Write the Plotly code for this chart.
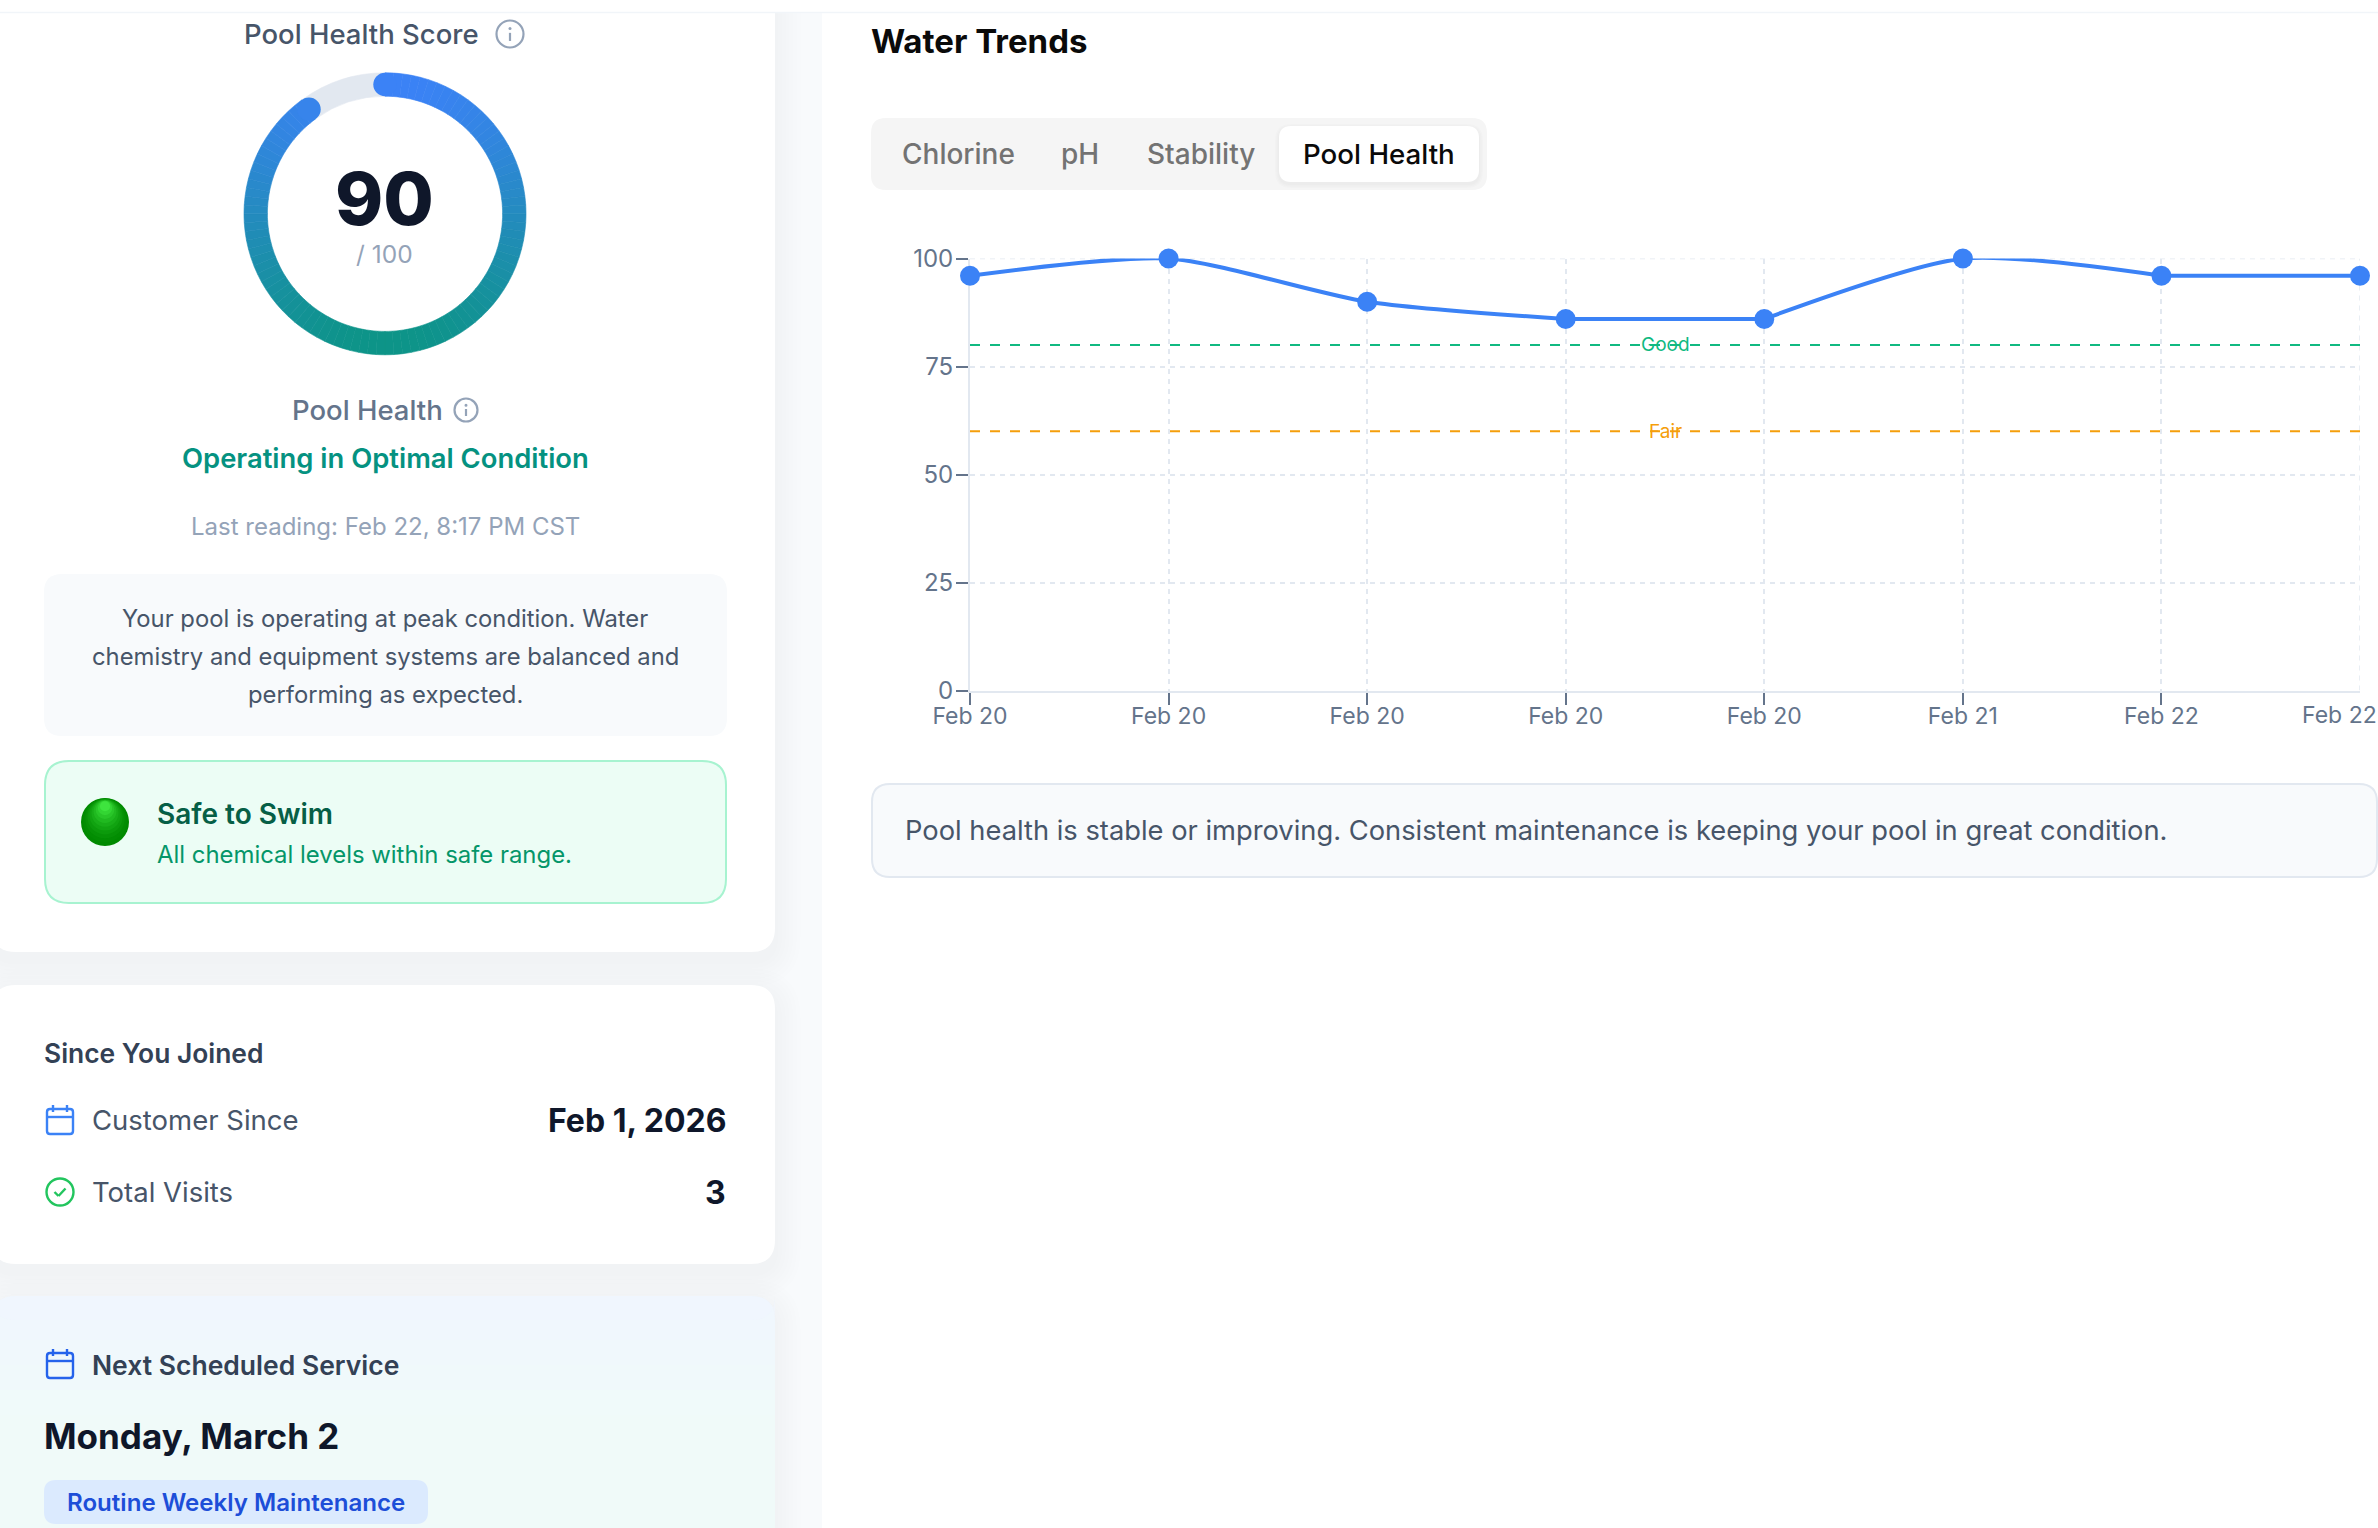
import math

import plotly.graph_objects as go

W = 2378
H = 1528

# chart data
point_index = [0, 1, 2, 3, 4, 5, 6, 7]
health_scores = [96, 100, 90, 86, 86, 100, 96, 96]
date_labels = ["Feb 20", "Feb 20", "Feb 20", "Feb 20", "Feb 20", "Feb 21", "Feb 22", "Feb 22"]
y_ticks = [0, 25, 50, 75, 100]
good_level = 80
fair_level = 60
pool_score = 90
score_max = 100

FONT = "Inter"
SLATE_900 = "#0f172a"
SLATE_700 = "#334155"
SLATE_600 = "#475569"
SLATE_500 = "#64748b"
SLATE_400 = "#94a3b8"
SLATE_200 = "#e2e8f0"
BLUE = "#3b82f6"
TEAL = "#0d9488"

# chart box in page pixels
PLOT_L, PLOT_R, PLOT_T, PLOT_B = 970, 2360, 258.5, 690.5
# gauge in page pixels
GX, GY, R_OUT, R_IN = 385, 213.8, 141, 117.6


def mix(c1, c2, t):
    a = [int(c1[i:i + 2], 16) for i in (1, 3, 5)]
    b = [int(c2[i:i + 2], 16) for i in (1, 3, 5)]
    return "rgb(%d,%d,%d)" % tuple(round(a[k] + (b[k] - a[k]) * t) for k in range(3))


def round_rect(x0, y0, x1, y1, r):
    return (
        f"M{x0 + r},{y0} L{x1 - r},{y0} Q{x1},{y0} {x1},{y0 + r} L{x1},{y1 - r} "
        f"Q{x1},{y1} {x1 - r},{y1} L{x0 + r},{y1} Q{x0},{y1} {x0},{y1 - r} "
        f"L{x0},{y0 + r} Q{x0},{y0} {x0 + r},{y0} Z"
    )


shapes = []
notes = []


def box(x0, y0, x1, y1, r, fill, line=None, width=0, layer="below", opacity=1):
    shapes.append(dict(
        type="path", path=round_rect(x0, y0, x1, y1, r), xref="x", yref="y", fillcolor=fill,
        line=dict(color=line or "rgba(0,0,0,0)", width=width), layer=layer, opacity=opacity,
    ))


def shadow(x0, y0, x1, y1, r, steps=7, spread=26, drop=9, alpha=0.004):
    for i in range(steps):
        s = spread * (1 - i / steps)
        box(x0 - s, y0 - s + drop, x1 + s, y1 + s + drop, r + s, "#0f172a", opacity=alpha)


def circle(cx, cy, r, fill="rgba(0,0,0,0)", line=None, width=0, layer="above"):
    shapes.append(dict(
        type="circle", x0=cx - r, x1=cx + r, y0=cy - r, y1=cy + r, xref="x", yref="y", fillcolor=fill,
        line=dict(color=line or "rgba(0,0,0,0)", width=width), layer=layer,
    ))


def seg(x0, y0, x1, y1, color, width):
    shapes.append(dict(
        type="line", x0=x0, x1=x1, y0=y0, y1=y1, xref="x", yref="y",
        line=dict(color=color, width=width), layer="above",
    ))


def label(x, y, text, size, color, anchor="left", weight=400):
    notes.append(dict(
        x=x, y=y, xref="x", yref="y", text=text, showarrow=False, xanchor=anchor, yanchor="middle",
        font=dict(family=FONT, size=size, color=color, weight=weight), borderpad=0, borderwidth=0,
    ))


def info_icon(cx, cy, r):
    circle(cx, cy, r - 1, line=SLATE_400, width=2.2)
    circle(cx, cy - r * 0.38, 1.5, fill=SLATE_400)
    seg(cx, cy - r * 0.08, cx, cy + r * 0.48, SLATE_400, 2.2)


def calendar_icon(cx, cy, color):
    box(cx - 13, cy - 11, cx + 13, cy + 14, 3, "rgba(0,0,0,0)", line=color, width=2.4, layer="above")
    seg(cx - 13, cy - 3, cx + 13, cy - 3, color, 2.4)
    seg(cx - 7, cy - 15, cx - 7, cy - 8, color, 2.4)
    seg(cx + 7, cy - 15, cx + 7, cy - 8, color, 2.4)


# page background and cards
box(-40, -40, 822, H + 40, 0, "#f8fafc")
box(823, 13, W + 40, H + 40, 0, "#ffffff")

shadow(-8, -40, 775, 952, 24)
box(-8, -40, 775, 952, 24, "#ffffff")
shapes.append(dict(type="rect", x0=0, x1=W, y0=0, y1=12, xref="x", yref="y", fillcolor="#ffffff",
                   line=dict(width=0), layer="below"))
seg(0, 12.5, W, 12.5, "#f1f5f9", 1.5)
shadow(-8, 985, 775, 1264, 24)
box(-8, 985, 775, 1264, 24, "#ffffff")
shadow(-8, 1296, 775, H + 40, 24)
box(-8, 1296, 775, H + 40, 24, "#f0f7fd")
for i in range(8):
    box(-8, 1340 + i * 25, 775, H + 40, 0, "#f0fdfa", opacity=0.16)
box(-8, 1296, 775, 1320, 24, "#eff6ff", opacity=0.5)

# gauge header and texts
label(361, 34, "Pool Health Score", 27.5, SLATE_600, "center", 500)
info_icon(510, 34, 14.5)
label(384, 198, "90", 73, SLATE_900, "center", 800)
label(384, 254, "/ 100", 24.5, SLATE_400, "center")
label(367, 410, "Pool Health", 27.5, SLATE_500, "center", 500)
info_icon(466, 410, 12.5)
label(385, 458, "Operating in Optimal Condition", 27.4, "#059281", "center", 600)
label(385, 526, "Last reading: Feb 22, 8:17 PM CST", 24, SLATE_400, "center")

box(44, 574, 727, 736, 18, "#f8fafc")
label(385, 618, "Your pool is operating at peak condition. Water", 23.8, SLATE_600, "center")
label(385, 656, "chemistry and equipment systems are balanced and", 23.8, SLATE_600, "center")
label(385, 694, "performing as expected.", 23.8, SLATE_600, "center")

box(45, 761, 726, 903, 24, "#ecfdf5", line="#a7f3d0", width=2)
for i in range(10):
    r = 24 - i * 2.1
    circle(105, 798 + r + i * 0.35, r, fill=mix("#008a00", "#3ee43e", (i / 9) ** 1.6), layer="below")
label(156.5, 814, "Safe to Swim", 28, "#065f46", "left", 600)
label(156.5, 854, "All chemical levels within safe range.", 23.9, "#059669")

label(44, 1052.5, "Since You Joined", 26.4, SLATE_700, "left", 600)
calendar_icon(60, 1120, BLUE)
label(92, 1120, "Customer Since", 27.5, SLATE_600)
label(726, 1120, "Feb 1, 2026", 32, SLATE_900, "right", 650)
circle(60, 1192, 13.5, line="#22c55e", width=2.4)
seg(54.5, 1192, 58.5, 1196, "#22c55e", 2.4)
seg(58.5, 1196, 65.5, 1188.5, "#22c55e", 2.4)
label(92, 1192, "Total Visits", 27.5, SLATE_600)
label(726, 1192, "3", 32, SLATE_900, "right", 650)

calendar_icon(60, 1364, "#2563eb")
label(92, 1364.5, "Next Scheduled Service", 26.5, SLATE_700, "left", 600)
label(44, 1435.5, "Monday, March 2", 35, SLATE_900, "left", 700)
box(44, 1480, 428, 1524, 12, "#dbeafe")
label(66.5, 1502, "Routine Weekly Maintenance", 24.1, "#1d4ed8", "left", 600)

# right panel
label(871, 41, "Water Trends", 33, "#0a0a0a", "left", 650)
box(871, 118, 1487, 190, 15, "#f5f5f5")
shadow(1279, 126, 1479, 182, 12, steps=3, spread=4, drop=2, alpha=0.012)
box(1279, 126, 1479, 182, 12, "#ffffff")
label(958, 154, "Chlorine", 28, "#737373", "center", 500)
label(1080, 154, "pH", 28, "#737373", "center", 500)
label(1201, 154, "Stability", 28, "#737373", "center", 500)
label(1379, 154, "Pool Health", 27.7, "#0a0a0a", "center", 500)

box(872, 784, 2377, 877, 18, "#f8fafc", line=SLATE_200, width=2)
label(905, 830, "Pool health is stable or improving. Consistent maintenance is keeping your pool in great condition.",
      27.3, SLATE_600)

# chart annotations
mid_x = (PLOT_L + PLOT_R) / 2
label(mid_x, PLOT_B - good_level / 100 * (PLOT_B - PLOT_T), "Good", 19, "#10b981", "center")
label(mid_x, PLOT_B - fair_level / 100 * (PLOT_B - PLOT_T), "Fair", 19, "#f59e0b", "center")
label(2377, 714.5, date_labels[-1], 23, SLATE_500, "right")

fig = go.Figure()

# plotly leaves out gridlines at the far ends of an axis, so these two are drawn
for xs, ys in [([point_index[0], point_index[-1]], [y_ticks[-1], y_ticks[-1]]),
               ([point_index[-1], point_index[-1]], [y_ticks[0], y_ticks[-1]])]:
    fig.add_trace(go.Scatter(
        x=xs, y=ys, mode="lines", xaxis="x2", yaxis="y2", cliponaxis=False,
        line=dict(color=SLATE_200, width=1.5, dash="5px,5px"), hoverinfo="skip", showlegend=False,
    ))

# reference levels
for level, color in [(good_level, "#10b981"), (fair_level, "#f59e0b")]:
    fig.add_trace(go.Scatter(
        x=[point_index[0], point_index[-1]], y=[level, level], mode="lines", xaxis="x2", yaxis="y2",
        line=dict(color=color, width=2, dash="10px,10px"), hoverinfo="skip", showlegend=False,
    ))

# the flat stretches stay flat, so the line is split where two readings are equal
runs = [(0, 4), (3, 5), (4, 7), (6, 8)]
for a, b in runs:
    fig.add_trace(go.Scatter(
        x=point_index[a:b], y=health_scores[a:b], mode="lines", xaxis="x2", yaxis="y2", cliponaxis=False,
        line=dict(color=BLUE, width=4, shape="spline", smoothing=0.7), hoverinfo="skip", showlegend=False,
    ))
fig.add_trace(go.Scatter(
    x=point_index, y=health_scores, mode="markers", xaxis="x2", yaxis="y2", cliponaxis=False,
    marker=dict(color=BLUE, size=20), showlegend=False, name="Pool Health",
))

# score gauge, one slice per point so the colour can run top to bottom
slice_colors = []
for i in range(pool_score):
    a = math.radians((i + 0.5) * 360 / score_max)
    slice_colors.append(mix(BLUE, TEAL, (1 - math.cos(a)) / 2))
fig.add_trace(go.Pie(
    values=[1] * pool_score + [score_max - pool_score],
    hole=R_IN / R_OUT, sort=False, direction="clockwise", rotation=0, textinfo="none", hoverinfo="skip",
    showlegend=False,
    marker=dict(colors=slice_colors + [SLATE_200], line=dict(color=slice_colors + [SLATE_200], width=0.6)),
    domain=dict(x=[(GX - R_OUT) / W, (GX + R_OUT) / W], y=[1 - (GY + R_OUT) / H, 1 - (GY - R_OUT) / H]),
))
# round ends of the gauge arc
r_mid = (R_OUT + R_IN) / 2
cap = (R_OUT - R_IN) / 2
end = math.radians(pool_score * 360 / score_max)
circle(GX, GY - r_mid, cap, fill=BLUE)
circle(GX + r_mid * math.sin(end), GY - r_mid * math.cos(end), cap, fill=mix(BLUE, TEAL, (1 - math.cos(end)) / 2))

fig.update_layout(
    width=W,
    height=H,
    autosize=False,
    margin=dict(l=0, r=0, t=0, b=0, pad=0, autoexpand=False),
    paper_bgcolor="#ffffff",
    plot_bgcolor="rgba(0,0,0,0)",
    font=dict(family=FONT, color=SLATE_500),
    showlegend=False,
    shapes=shapes,
    annotations=notes,
    # whole page in pixels, used for the cards and texts
    xaxis=dict(range=[0, W], domain=[0, 1], visible=False, fixedrange=True, automargin=False),
    yaxis=dict(range=[H, 0], domain=[0, 1], visible=False, fixedrange=True, automargin=False),
    xaxis2=dict(
        domain=[PLOT_L / W, PLOT_R / W], anchor="y2", range=[point_index[0], point_index[-1]], automargin=False,
        tickvals=point_index[:-1], ticktext=date_labels[:-1], ticks="outside", ticklen=12, tickwidth=1.5,
        tickcolor=SLATE_500, tickfont=dict(family=FONT, size=23, color=SLATE_500), tickangle=0,
        ticklabelstandoff=-8, layer="below traces",
        showline=True, linecolor=SLATE_200, linewidth=2, showgrid=True, gridcolor=SLATE_200, gridwidth=1.5,
        griddash="5px,5px", zeroline=False, fixedrange=True,
    ),
    yaxis2=dict(
        domain=[1 - PLOT_B / H, 1 - PLOT_T / H], anchor="x2", range=[0, 100], tickvals=y_ticks, automargin=False,
        ticks="outside", ticklen=12, tickwidth=1.5, tickcolor=SLATE_500,
        tickfont=dict(family=FONT, size=24, color=SLATE_500), ticklabelstandoff=-2, layer="below traces",
        showline=True, linecolor=SLATE_200, linewidth=2, showgrid=True, gridcolor=SLATE_200, gridwidth=1.5,
        griddash="5px,5px", zeroline=False, fixedrange=True,
    ),
)

fig.write_html("out.html", config=dict(displayModeBar=False),
               post_script="document.body.style.margin='0';document.body.style.overflow='hidden';")
